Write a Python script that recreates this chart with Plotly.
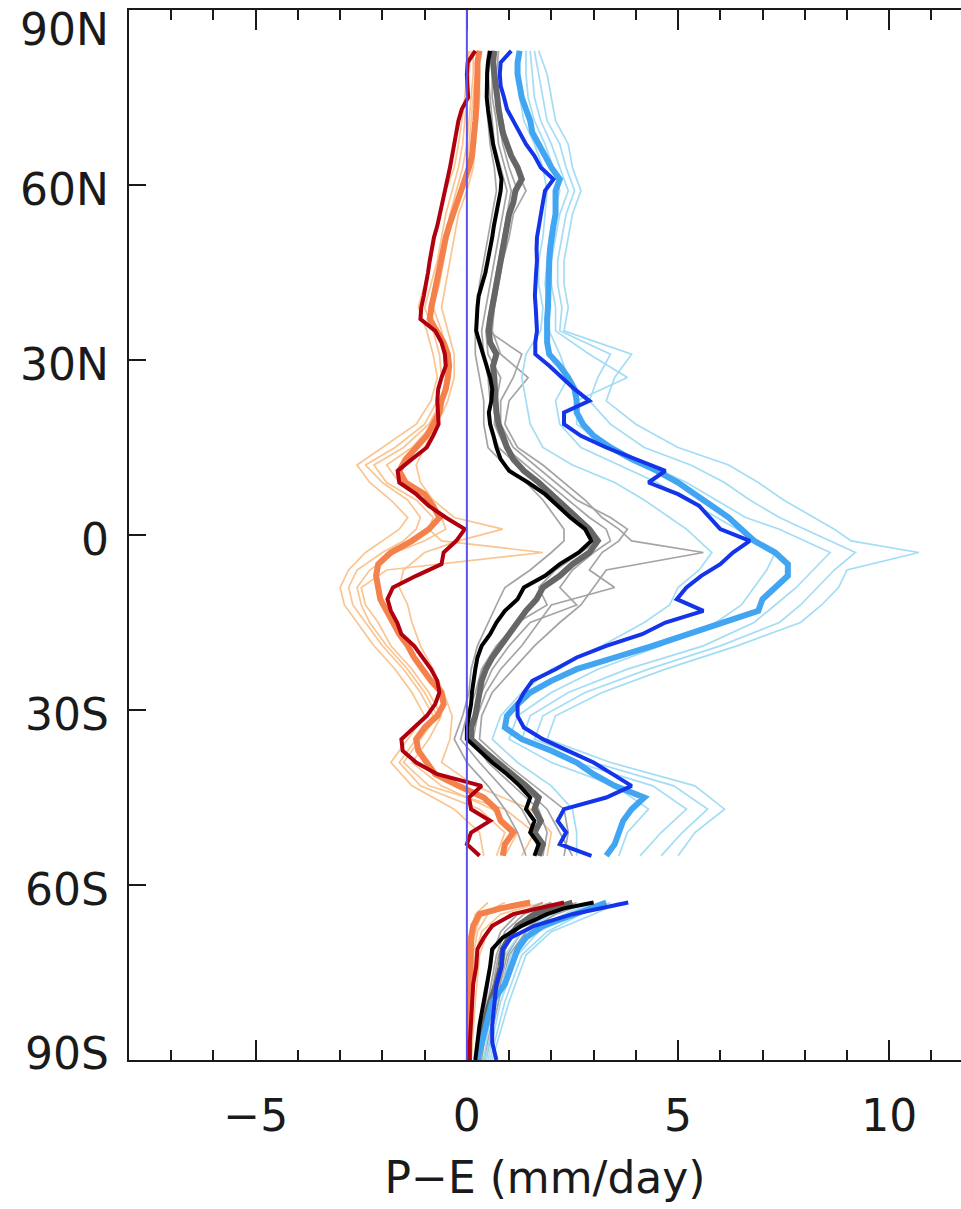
import plotly.graph_objects as go

# ---------------------------------------------------------------------------
# Zonal-mean P-E profiles (mm/day) against latitude
# ---------------------------------------------------------------------------

# Latitude grid of the ensemble-mean curves (ocean band north of ~55S)
LAT_MEAN = [83, 81, 79, 77, 75, 73, 71, 69, 67, 65, 63, 61, 59, 57, 55, 53, 51, 49, 47, 45,
            43, 41, 39, 37, 35, 33, 31, 29, 27, 25, 23, 21, 19, 17, 15, 13, 11, 9, 7, 5,
            3, 1, -1, -3, -5, -7, -9, -11, -13, -15, -17, -19, -21, -23, -25, -27, -29, -31, -33, -35,
            -37, -39, -41, -43, -45, -47, -49, -51, -53, -55]
# Antarctic segment
LAT_MEAN_ANT = [-63, -64, -65, -67, -69, -71, -74, -77, -80, -84, -87, -90]

# Dark red (bold)
DARK_RED_P = [0.2, 0.02, 0.0, 0.02, 0.03, -0.12, -0.2, -0.25, -0.3, -0.33,
              -0.4, -0.46, -0.52, -0.56, -0.62, -0.7, -0.78, -0.84, -0.88, -0.92,
              -0.96, -1.02, -1.08, -1.1, -0.75, -0.6, -0.52, -0.5, -0.6, -0.68,
              -0.7, -0.68, -0.67, -0.8, -0.95, -1.3, -1.64, -1.6, -1.2, -0.9,
              -0.5, -0.05, -0.25, -0.55, -0.6, -1.2, -1.75, -1.88, -1.8, -1.65,
              -1.55, -1.25, -1.05, -0.85, -0.7, -0.65, -0.75, -0.95, -1.25, -1.55,
              -1.52, -1.2, -0.7, 0.35, 0.05, 0.1, 0.55, 0.1, 0.0, 0.3]
DARK_RED_ANT = [2.3, 1.7, 1.1, 0.6, 0.4, 0.25, 0.22, 0.15, 0.12, 0.1, 0.07, 0.07]

# Orange (medium)
ORANGE_P = [0.3, 0.25, 0.25, 0.25, 0.23, 0.22, 0.2, 0.18, 0.15, 0.12,
            0.05, -0.05, -0.15, -0.25, -0.35, -0.42, -0.5, -0.56, -0.62, -0.67,
            -0.72, -0.78, -0.84, -0.88, -0.7, -0.55, -0.45, -0.42, -0.45, -0.5,
            -0.6, -0.65, -0.8, -0.95, -1.2, -1.45, -1.6, -1.45, -1.0, -0.8,
            -0.65, -0.9, -1.3, -1.8, -2.1, -2.15, -2.1, -2.05, -1.9, -1.75,
            -1.6, -1.4, -1.25, -1.05, -0.85, -0.6, -0.55, -0.7, -1.0, -1.2,
            -1.15, -0.95, -0.75, -0.2, 0.4, 0.7, 0.8, 1.1, 0.9, 0.85]
ORANGE_ANT = [1.5, 0.8, 0.3, 0.15, 0.1, 0.1, 0.1, 0.08, 0.06, 0.05, 0.05, 0.05]

# Black (bold)
BLACK_P = [0.55, 0.5, 0.48, 0.47, 0.47, 0.5, 0.55, 0.58, 0.62, 0.68,
           0.74, 0.82, 0.8, 0.74, 0.7, 0.64, 0.6, 0.55, 0.5, 0.44,
           0.36, 0.28, 0.25, 0.23, 0.22, 0.3, 0.38, 0.45, 0.55, 0.6,
           0.58, 0.52, 0.55, 0.63, 0.7, 0.8, 1.0, 1.45, 1.85, 2.15,
           2.45, 2.8, 2.95, 2.65, 2.2, 1.85, 1.35, 1.2, 0.9, 0.7,
           0.55, 0.35, 0.25, 0.2, 0.15, 0.12, 0.1, 0.05, 0.0, 0.0,
           0.3, 0.6, 0.95, 1.25, 1.5, 1.4, 1.6, 1.5, 1.7, 1.6]
BLACK_ANT = [3.0, 2.3, 1.9, 1.3, 0.85, 0.6, 0.55, 0.47, 0.4, 0.3, 0.25, 0.2]

# Grey (medium)
GREY_P = [0.65, 0.62, 0.65, 0.7, 0.72, 0.75, 0.8, 0.85, 0.95, 1.05,
          1.2, 1.3, 1.15, 1.1, 1.0, 0.95, 0.9, 0.85, 0.8, 0.75,
          0.68, 0.62, 0.58, 0.55, 0.52, 0.55, 0.7, 0.62, 0.65, 0.68,
          0.68, 0.7, 0.75, 0.85, 0.95, 1.1, 1.35, 1.7, 2.0, 2.3,
          2.6, 2.9, 3.1, 2.9, 2.5, 2.2, 1.8, 1.65, 1.4, 1.2,
          1.0, 0.8, 0.6, 0.45, 0.35, 0.3, 0.25, 0.2, 0.1, 0.1,
          0.4, 0.75, 1.1, 1.4, 1.7, 1.6, 1.75, 1.6, 1.8, 1.7]
GREY_ANT = [2.5, 2.0, 1.6, 1.2, 1.0, 0.85, 0.8, 0.7, 0.55, 0.4, 0.3, 0.25]

# Dark blue (bold)
DARK_BLUE_P = [1.05, 0.8, 0.78, 0.8, 0.88, 0.95, 1.1, 1.25, 1.4, 1.6,
               1.75, 2.05, 1.85, 1.8, 1.75, 1.7, 1.66, 1.65, 1.66, 1.64,
               1.62, 1.61, 1.63, 1.65, 1.66, 1.62, 1.62, 1.95, 2.25, 2.55,
               2.9, 2.3, 2.3, 2.7, 3.3, 4.0, 4.7, 4.3, 5.0, 5.5,
               5.75, 6.0, 6.7, 6.3, 6.0, 5.55, 5.2, 4.97, 5.6, 4.7,
               4.15, 3.3, 2.6, 2.1, 1.55, 1.35, 1.2, 1.2, 1.35, 1.8,
               2.4, 3.0, 3.45, 3.9, 3.3, 2.3, 2.15, 2.35, 2.2, 2.95]
DARK_BLUE_ANT = [3.82, 3.1, 2.5, 1.6, 1.05, 0.85, 0.82, 0.7, 0.65, 0.6, 0.6, 0.7]

# Blue (medium)
BLUE_P = [1.25, 1.2, 1.2, 1.25, 1.3, 1.4, 1.5, 1.55, 1.7, 1.85,
          2.0, 2.2, 2.1, 2.1, 2.1, 2.05, 2.0, 1.97, 1.95, 1.95,
          1.92, 1.92, 1.92, 1.9, 1.9, 1.9, 1.95, 2.2, 2.4, 2.55,
          2.6, 2.6, 2.75, 3.0, 3.4, 3.9, 4.5, 5.0, 5.4, 5.8,
          6.2, 6.5, 6.8, 7.3, 7.6, 7.6, 7.3, 7.0, 6.9, 6.1,
          5.3, 4.4, 3.5, 2.6, 2.0, 1.5, 1.2, 0.95, 0.9, 1.3,
          2.0, 2.6, 3.0, 3.5, 4.2, 3.9, 3.7, 3.6, 3.5, 3.3]
BLUE_ANT = [3.3, 2.9, 2.6, 1.8, 1.4, 1.2, 1.05, 0.9, 0.6, 0.45, 0.35, 0.25]

# Latitude grid of the individual members
LAT_MEMBER = [83, 79, 75, 71, 67, 63, 59, 55, 51, 47, 43, 39, 35, 31, 27, 23, 19, 15,
              12, 9, 6, 3, 1, -1, -3, -6, -9, -12, -15,
              -19, -23, -27, -31, -35, -39, -43, -47, -51, -55]
LAT_MEMBER_ANT = [-63, -65, -68, -72, -80, -90]

# Light orange members
ORANGE_M1 = [0.05, 0.0, -0.05, -0.12, -0.2, -0.3, -0.5, -0.65, -0.75, -0.85, -1.0, -1.15, -0.95, -0.8, -0.7, -0.85, -1.2, -2.0,
             -2.6, -2.3, -1.8, -1.4, -1.6, -2.0, -2.4, -2.8, -3.0, -2.9, -2.6,
             -2.2, -1.7, -1.3, -1.0, -1.4, -1.8, -1.3, -0.3, 0.3, 0.4]
ORANGE_M2 = [0.3, 0.3, 0.3, 0.25, 0.2, 0.15, 0.0, -0.2, -0.3, -0.4, -0.5, -0.6, -0.45, -0.3, -0.3, -0.45, -0.7, -1.0,
             -1.2, -1.1, -0.8, -0.3, 0.85, -0.2, -1.0, -1.5, -1.6, -1.4, -1.3,
             -1.1, -0.8, -0.55, -0.35, -0.4, -0.6, 0.2, 1.5, 2.0, 1.9]
ORANGE_M3 = [0.15, 0.15, 0.1, 0.05, 0.0, -0.1, -0.25, -0.4, -0.5, -0.6, -0.75, -0.9, -0.7, -0.55, -0.5, -0.6, -0.9, -1.5,
             -2.2, -1.9, -1.2, -0.8, -0.9, -0.6, 1.8, -1.9, -2.5, -2.4, -2.1,
             -1.8, -1.3, -0.9, -0.6, -0.9, -1.3, -0.6, 0.6, 1.2, 0.9]
ORANGE_M4 = [0.25, 0.2, 0.15, 0.1, 0.05, 0.0, -0.15, -0.3, -0.45, -0.55, -0.65, -0.8, -0.6, -0.45, -0.4, -0.55, -0.8, -1.3,
             -1.9, -1.6, -1.0, -0.6, -0.5, -1.0, -1.7, -2.3, -2.6, -2.5, -2.3,
             -1.9, -1.4, -1.0, -0.7, -1.1, -1.5, -0.9, 0.9, 1.6, 1.3]
ORANGE_M5 = [0.1, 0.05, 0.0, -0.05, -0.1, -0.2, -0.35, -0.5, -0.6, -0.7, -0.85, -1.0, -0.8, -0.65, -0.6, -0.7, -1.0, -1.7,
             -2.4, -2.0, -1.4, -1.1, -1.2, -1.5, -2.0, -2.6, -2.8, -2.7, -2.4,
             -2.0, -1.5, -1.1, -0.8, -1.2, -1.6, -1.1, 0.3, 0.9, 0.7]
ORANGE_M1_ANT = [0.5, 0.2, 0.1, 0.05, 0.05, 0.03]
ORANGE_M2_ANT = [1.8, 0.8, 0.35, 0.2, 0.15, 0.1]
ORANGE_M3_ANT = [1.2, 0.5, 0.25, 0.15, 0.1, 0.08]
ORANGE_M4_ANT = [2.0, 1.0, 0.5, 0.3, 0.2, 0.1]
ORANGE_M5_ANT = [0.9, 0.35, 0.2, 0.1, 0.08, 0.05]

# Light grey members
GREY_M1 = [0.5, 0.45, 0.45, 0.5, 0.55, 0.65, 0.7, 0.6, 0.5, 0.4, 0.3, 0.25, 0.2, 0.2, 0.3, 0.4, 0.4, 0.5,
           0.9, 1.4, 1.8, 2.1, 2.3, 2.3, 2.0, 1.5, 0.9, 0.7, 0.5,
           0.25, 0.1, 0.05, -0.1, -0.3, 0.0, 0.5, 0.9, 1.2, 1.4]
GREY_M2 = [0.75, 0.7, 0.75, 0.85, 0.95, 1.15, 1.4, 1.1, 1.0, 0.85, 0.75, 0.65, 0.6, 0.8, 1.45, 1.0, 0.9, 1.2,
           1.8, 2.3, 2.8, 3.2, 3.6, 3.9, 5.6, 3.3, 3.0, 2.7, 2.2,
           1.6, 1.1, 0.6, 0.35, 0.3, 0.9, 1.6, 2.3, 2.4, 2.3]
GREY_M3 = [0.6, 0.6, 0.6, 0.7, 0.75, 0.9, 1.05, 0.95, 0.85, 0.75, 0.65, 0.55, 0.45, 0.5, 0.8, 0.7, 0.65, 0.9,
           1.4, 1.9, 2.4, 2.9, 3.3, 3.4, 3.0, 2.5, 2.2, 2.6, 1.5,
           1.0, 0.6, 0.35, 0.2, 0.1, 0.5, 1.1, 1.7, 1.9, 1.8]
GREY_M4 = [0.65, 0.65, 0.7, 0.75, 0.85, 1.0, 1.2, 1.0, 0.9, 0.8, 0.7, 0.6, 0.5, 1.3, 1.1, 0.8, 0.8, 1.1,
           1.6, 2.1, 2.6, 3.4, 3.8, 3.6, 3.2, 2.9, 3.5, 2.0, 1.7,
           1.3, 0.8, 0.45, 0.25, 0.15, 0.7, 1.3, 1.9, 2.2, 2.5]
GREY_M5 = [0.55, 0.5, 0.55, 0.6, 0.65, 0.8, 0.95, 0.85, 0.75, 0.65, 0.55, 0.45, 0.35, 0.4, 0.5, 0.55, 0.55, 0.75,
           1.2, 1.7, 2.2, 2.6, 2.9, 3.1, 2.7, 2.1, 1.7, 1.9, 1.2,
           0.7, 0.35, 0.2, 0.0, -0.15, 0.3, 0.8, 1.3, 1.6, 1.7]
GREY_M1_ANT = [1.8, 1.2, 0.8, 0.6, 0.45, 0.3]
GREY_M2_ANT = [2.6, 1.9, 1.3, 0.95, 0.7, 0.4]
GREY_M3_ANT = [2.2, 1.5, 1.0, 0.75, 0.55, 0.35]
GREY_M4_ANT = [2.9, 2.1, 1.4, 1.0, 0.75, 0.45]
GREY_M5_ANT = [2.0, 1.35, 0.9, 0.7, 0.5, 0.3]

# Light blue members
BLUE_M1 = [1.2, 1.2, 1.25, 1.35, 1.6, 1.8, 1.9, 1.85, 1.8, 1.7, 1.7, 1.8, 1.75, 1.4, 1.3, 1.4, 1.5, 1.8,
           2.5, 3.5, 4.2, 4.8, 5.2, 5.5, 5.8, 5.5, 5.0, 4.8, 4.2,
           3.2, 2.0, 1.3, 0.8, 0.6, 1.2, 2.0, 2.5, 2.6, 2.6]
BLUE_M2 = [1.7, 1.9, 2.0, 2.1, 2.4, 2.5, 2.7, 2.5, 2.4, 2.3, 2.3, 2.4, 2.3, 3.9, 3.5, 3.3, 4.0, 5.0,
           6.2, 6.9, 7.5, 8.2, 8.7, 9.1, 10.7, 9.0, 8.8, 8.4, 7.9,
           6.4, 4.7, 3.2, 2.1, 1.9, 3.4, 5.4, 6.1, 5.4, 5.0]
BLUE_M3 = [1.5, 1.55, 1.6, 1.75, 2.0, 2.2, 2.4, 2.2, 2.1, 2.0, 2.0, 2.1, 2.1, 2.9, 3.8, 2.6, 2.6, 3.3,
           4.3, 5.2, 5.9, 6.6, 7.4, 8.0, 8.6, 8.2, 7.8, 7.3, 6.8,
           5.6, 3.8, 2.4, 1.5, 1.3, 2.6, 4.4, 5.2, 4.6, 4.1]
BLUE_M4 = [1.4, 1.4, 1.45, 1.6, 1.85, 2.05, 2.2, 2.05, 1.95, 1.9, 1.85, 1.95, 1.95, 2.2, 2.4, 2.1, 2.2, 2.7,
           3.6, 4.5, 5.2, 5.9, 6.4, 6.9, 7.3, 7.1, 6.8, 6.5, 5.9,
           4.6, 3.1, 2.0, 1.2, 1.0, 2.0, 3.5, 4.3, 3.8, 3.6]
BLUE_M5 = [1.6, 1.7, 1.8, 1.9, 2.2, 2.35, 2.55, 2.35, 2.25, 2.15, 2.15, 2.25, 2.2, 3.4, 3.1, 2.9, 3.4, 4.2,
           5.3, 6.1, 6.7, 7.4, 8.0, 8.6, 9.2, 8.7, 8.3, 7.9, 7.4,
           6.0, 4.3, 2.8, 1.8, 1.6, 3.0, 4.9, 5.7, 5.1, 4.6]
BLUE_M1_ANT = [2.8, 2.0, 1.3, 0.9, 0.6, 0.4]
BLUE_M2_ANT = [3.6, 3.0, 2.0, 1.4, 1.0, 0.6]
BLUE_M3_ANT = [3.2, 2.5, 1.7, 1.2, 0.8, 0.5]
BLUE_M4_ANT = [3.0, 2.3, 1.5, 1.05, 0.7, 0.45]
BLUE_M5_ANT = [3.4, 2.7, 1.9, 1.3, 0.9, 0.55]

# Axis ticks
LAT_TICKS = [90, 60, 30, 0, -30, -60, -90]
LAT_TICK_TEXT = ["90N", "60N", "30N", "0", "30S", "60S", "90S"]
PE_TICKS = [-5, 0, 5, 10]

FONT = "DejaVu Sans"
AXIS_COLOR = "#1a1a1a"


def joined(lat_a, val_a, lat_b, val_b):
    """Join the ocean and Antarctic pieces with a break between them."""
    return val_a + [None] + val_b, lat_a + [None] + lat_b


def add_profile(fig, lat_a, val_a, lat_b, val_b, color, width, opacity=1.0):
    x, y = joined(lat_a, val_a, lat_b, val_b)
    fig.add_trace(go.Scatter(
        x=x, y=y, mode="lines", connectgaps=False,
        line=dict(color=color, width=width, shape="linear"),
        opacity=opacity, hoverinfo="skip", showlegend=False,
    ))


fig = go.Figure()

member_sets = [
    ("#fbc28c", [(ORANGE_M1, ORANGE_M1_ANT), (ORANGE_M2, ORANGE_M2_ANT), (ORANGE_M3, ORANGE_M3_ANT),
                 (ORANGE_M4, ORANGE_M4_ANT), (ORANGE_M5, ORANGE_M5_ANT)]),
    ("#a0a0a0", [(GREY_M1, GREY_M1_ANT), (GREY_M2, GREY_M2_ANT), (GREY_M3, GREY_M3_ANT),
                 (GREY_M4, GREY_M4_ANT), (GREY_M5, GREY_M5_ANT)]),
    ("#9fdcf5", [(BLUE_M1, BLUE_M1_ANT), (BLUE_M2, BLUE_M2_ANT), (BLUE_M3, BLUE_M3_ANT),
                 (BLUE_M4, BLUE_M4_ANT), (BLUE_M5, BLUE_M5_ANT)]),
]
for color, members in member_sets:
    for main, ant in members:
        add_profile(fig, LAT_MEMBER, main, LAT_MEMBER_ANT, ant, color, 1.7, 0.95)

# medium-weight curves
add_profile(fig, LAT_MEAN, ORANGE_P, LAT_MEAN_ANT, ORANGE_ANT, "#f4804c", 6)
add_profile(fig, LAT_MEAN, GREY_P, LAT_MEAN_ANT, GREY_ANT, "#666666", 6)
add_profile(fig, LAT_MEAN, BLUE_P, LAT_MEAN_ANT, BLUE_ANT, "#42a5f2", 6)

# bold curves
add_profile(fig, LAT_MEAN, DARK_RED_P, LAT_MEAN_ANT, DARK_RED_ANT, "#b00010", 4)
add_profile(fig, LAT_MEAN, BLACK_P, LAT_MEAN_ANT, BLACK_ANT, "#000000", 4)
add_profile(fig, LAT_MEAN, DARK_BLUE_P, LAT_MEAN_ANT, DARK_BLUE_ANT, "#1434ea", 4)

# zero reference line
fig.add_vline(x=0, line=dict(color="#5b52ee", width=2), layer="above")

# latitude labels
for lat, txt in zip(LAT_TICKS, LAT_TICK_TEXT):
    shift = -4
    if lat == 90:
        shift = -19
    elif lat == -90:
        shift = 7
    fig.add_annotation(
        x=0, xref="paper", xanchor="right", xshift=-18,
        y=lat, yref="y", yanchor="middle", yshift=shift,
        text=txt, showarrow=False,
        font=dict(family=FONT, size=44, color=AXIS_COLOR),
    )

fig.update_layout(
    width=961, height=1209,
    margin=dict(l=129, r=0, t=10, b=149),
    paper_bgcolor="white", plot_bgcolor="white",
    font=dict(family=FONT, size=44, color=AXIS_COLOR),
    showlegend=False,
)

fig.update_xaxes(
    range=[-8, 11.7],
    tickmode="array", tickvals=PE_TICKS,
    ticks="inside", ticklen=20, tickwidth=2, tickcolor=AXIS_COLOR,
    minor=dict(ticks="inside", ticklen=10, tickwidth=2, tickcolor=AXIS_COLOR,
               tickmode="linear", tick0=0, dtick=1),
    showline=True, linewidth=2, linecolor=AXIS_COLOR, mirror="allticks",
    showgrid=False, zeroline=False,
    tickfont=dict(family=FONT, size=44, color=AXIS_COLOR),
    ticklabelstandoff=16,
    title=dict(text="P\u2212E (mm/day)", standoff=22,
               font=dict(family=FONT, size=44, color=AXIS_COLOR)),
)

fig.update_yaxes(
    range=[-90, 90],
    tickmode="array", tickvals=LAT_TICKS,
    ticks="inside", ticklen=17, tickwidth=2, tickcolor=AXIS_COLOR,
    showticklabels=False,
    showline=True, linewidth=2, linecolor=AXIS_COLOR, mirror=False,
    showgrid=False, zeroline=False,
)

fig.write_html("out.html")
